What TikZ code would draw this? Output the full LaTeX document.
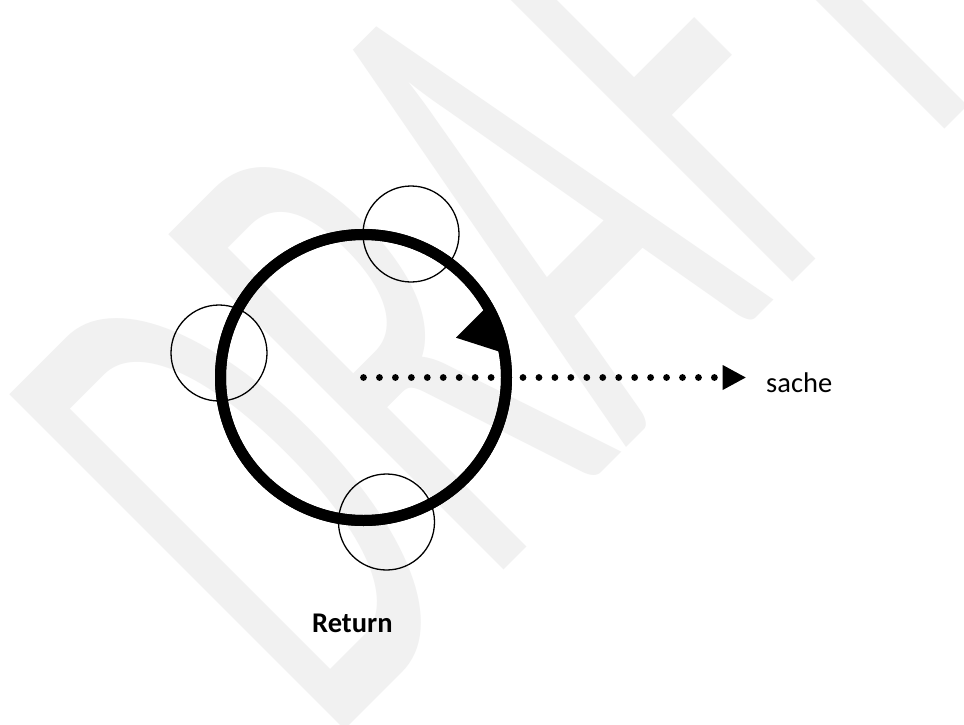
\documentclass[tikz,border=0pt]{standalone}
\usepackage{fontspec}
\setmainfont{Carlito}
\usetikzlibrary{arrows.meta,calc}
\definecolor{wmgray}{RGB}{241,241,241}
\tikzset{
  bigring/.style={circle, draw=black, line width=11pt, minimum size=286pt, inner sep=0pt},
  smallring/.style={circle, draw=black, line width=1.3pt, minimum size=96pt, inner sep=0pt},
  dotline/.style={line width=6.8pt, line cap=round, dash pattern=on 0pt off 15.95pt},
  lbl/.style={inner sep=0pt, anchor=base west, font=\fontsize{28.5}{30}\selectfont},
  wmark/.style={inner sep=0pt, anchor=base west, text=wmgray, font=\fontsize{100}{100}\selectfont}
}
\begin{document}
\begin{tikzpicture}[x=1pt, y=-1pt]
\useasboundingbox (0,0) rectangle (964,725);
\fill[white] (0,0) rectangle (964,725);
\begin{scope}
  \clip (0,0) rectangle (964,725);
  \node[wmark, rotate=45, xscale=3.65, yscale=7.39] (wm) at (326.6,748) {DRAFT};
\end{scope}
% dotted arrow
\node[bigring] (big) at (363.5,377.5) {};
\coordinate (tipbase) at (722.7,377.5);
\coordinate (tip) at (745.7,377.5);
\draw[dotline] (big.center) -- (tipbase);
\fill ($(tipbase)+(0,-12.5)$) -- (tip) -- ($(tipbase)+(0,12.5)$) -- cycle;
\node[bigring] at (big.center) {};
% arrowhead on ring
\fill (484.5,309) -- (456,337.7) -- (500.5,352) -- (503,340) -- (495,322) -- cycle;
% small rings
\node[smallring] (top) at (411,234) {};
\node[smallring] (left) at (219,353) {};
\node[smallring] (bottom) at (386.5,522) {};
% labels
\node[lbl] (sache) at (766,392.3) {sache};
\node[lbl, font=\fontsize{28.5}{30}\selectfont\bfseries] (ret) at (312,632.3) {Return};
\end{tikzpicture}
\end{document}
